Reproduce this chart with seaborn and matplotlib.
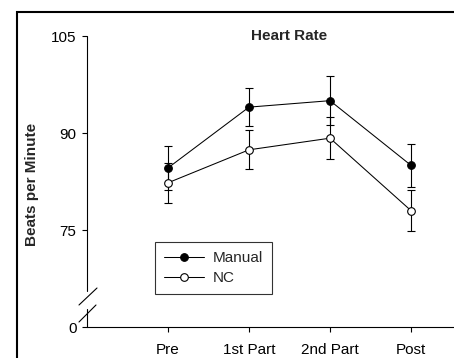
import matplotlib
matplotlib.use("Agg")
import matplotlib.pyplot as plt
import seaborn as sns
import pandas as pd
from matplotlib.patches import Rectangle

# ---- data ----
categories = ["Pre", "1st Part", "2nd Part", "Post"]
manual_mean = [84.6, 94.0, 95.0, 85.0]
manual_err = [3.4, 2.9, 3.8, 3.3]
nc_mean = [82.3, 87.4, 89.2, 78.0]
nc_err = [3.1, 3.0, 3.2, 3.2]
series_names = ["Manual", "NC"]
ytick_values = [60, 75, 90, 105]      # 60 is where the broken axis shows "0"
ytick_labels = ["0", "75", "90", "105"]

sns.set_theme(style="white")
plt.rcParams["font.family"] = ["Liberation Sans", "DejaVu Sans"]

FS = 11

positions = list(range(len(categories)))
df = pd.DataFrame({
    "pos": positions * 2,
    "value": manual_mean + nc_mean,
    "err": manual_err + nc_err,
    "group": [series_names[0]] * len(categories) + [series_names[1]] * len(categories),
})

W, H = 454, 358
fig = plt.figure(figsize=(W / 100, H / 100), dpi=100)
ax = fig.add_axes([87 / W, 31 / H, 405 / W, 291 / H])

faces = {"Manual": "black", "NC": "white"}
for name in series_names:
    sub = df[df["group"] == name]
    ax.errorbar(sub["pos"], sub["value"], yerr=sub["err"], fmt="none",
                ecolor="black", elinewidth=0.8, capsize=3, capthick=0.8, zorder=2)
for name in series_names:
    sub = df[df["group"] == name]
    sns.lineplot(data=sub, x="pos", y="value", ax=ax, color="black", lw=0.75,
                 marker="o", markersize=5.5, markerfacecolor=faces[name],
                 markeredgecolor="black", markeredgewidth=0.8,
                 errorbar=None, label=name, zorder=3)

ax.set_xlim(-1, 4)
ax.set_ylim(60, 105)
ax.set_xticks(positions)
ax.set_xticklabels(categories)
ax.set_yticks(ytick_values)
ax.set_yticklabels(ytick_labels)
ax.set_xlabel("")
ax.set_ylabel("")

for s in ["top", "right", "left"]:
    ax.spines[s].set_visible(False)
ax.spines["bottom"].set_color("black")
ax.spines["bottom"].set_linewidth(0.8)

ax.tick_params(axis="both", direction="out", length=3.5, width=0.8,
               colors="black", labelsize=FS)
ax.tick_params(axis="y", pad=4)
ax.tick_params(axis="x", pad=8)
ax.tick_params(left=True, bottom=True)

# broken y-axis line and break marks
kw = dict(transform=ax.transAxes, color="black", lw=0.8, clip_on=False)
ax.plot([0, 0], [0.1237, 1.0], **kw)
ax.plot([0, 0], [0.0, 0.0619], **kw)
ax.plot([-0.0198, 0.0247], [0.0756, 0.134], **kw)
ax.plot([-0.0198, 0.0222], [0.0172, 0.0756], **kw)

ax.text(0.5, 1.0, "Heart Rate", transform=ax.transAxes, ha="center", va="center",
        fontsize=FS, fontweight="bold")
fig.text(32 / W, 1 - 184 / H, "Beats per Minute", rotation=90, ha="center",
         va="center", fontsize=FS, fontweight="bold")

leg = ax.legend(loc="upper left", bbox_to_anchor=((155 - 87) / 405, (327 - 242) / 291),
                borderaxespad=0, fontsize=FS, frameon=True, fancybox=False,
                edgecolor="black", handlelength=2.6, handletextpad=0.6,
                labelspacing=0.4, borderpad=0.6)
leg.get_frame().set_linewidth(0.8)

# outer frame around the figure (extends past right/bottom edges)
fig.add_artist(Rectangle((16.5 / W, -0.5), 2.0, (H - 11.5) / H + 0.5,
                         transform=fig.transFigure, fill=False, lw=1.5,
                         ec="black"))

fig.savefig("out.png", dpi=100)
